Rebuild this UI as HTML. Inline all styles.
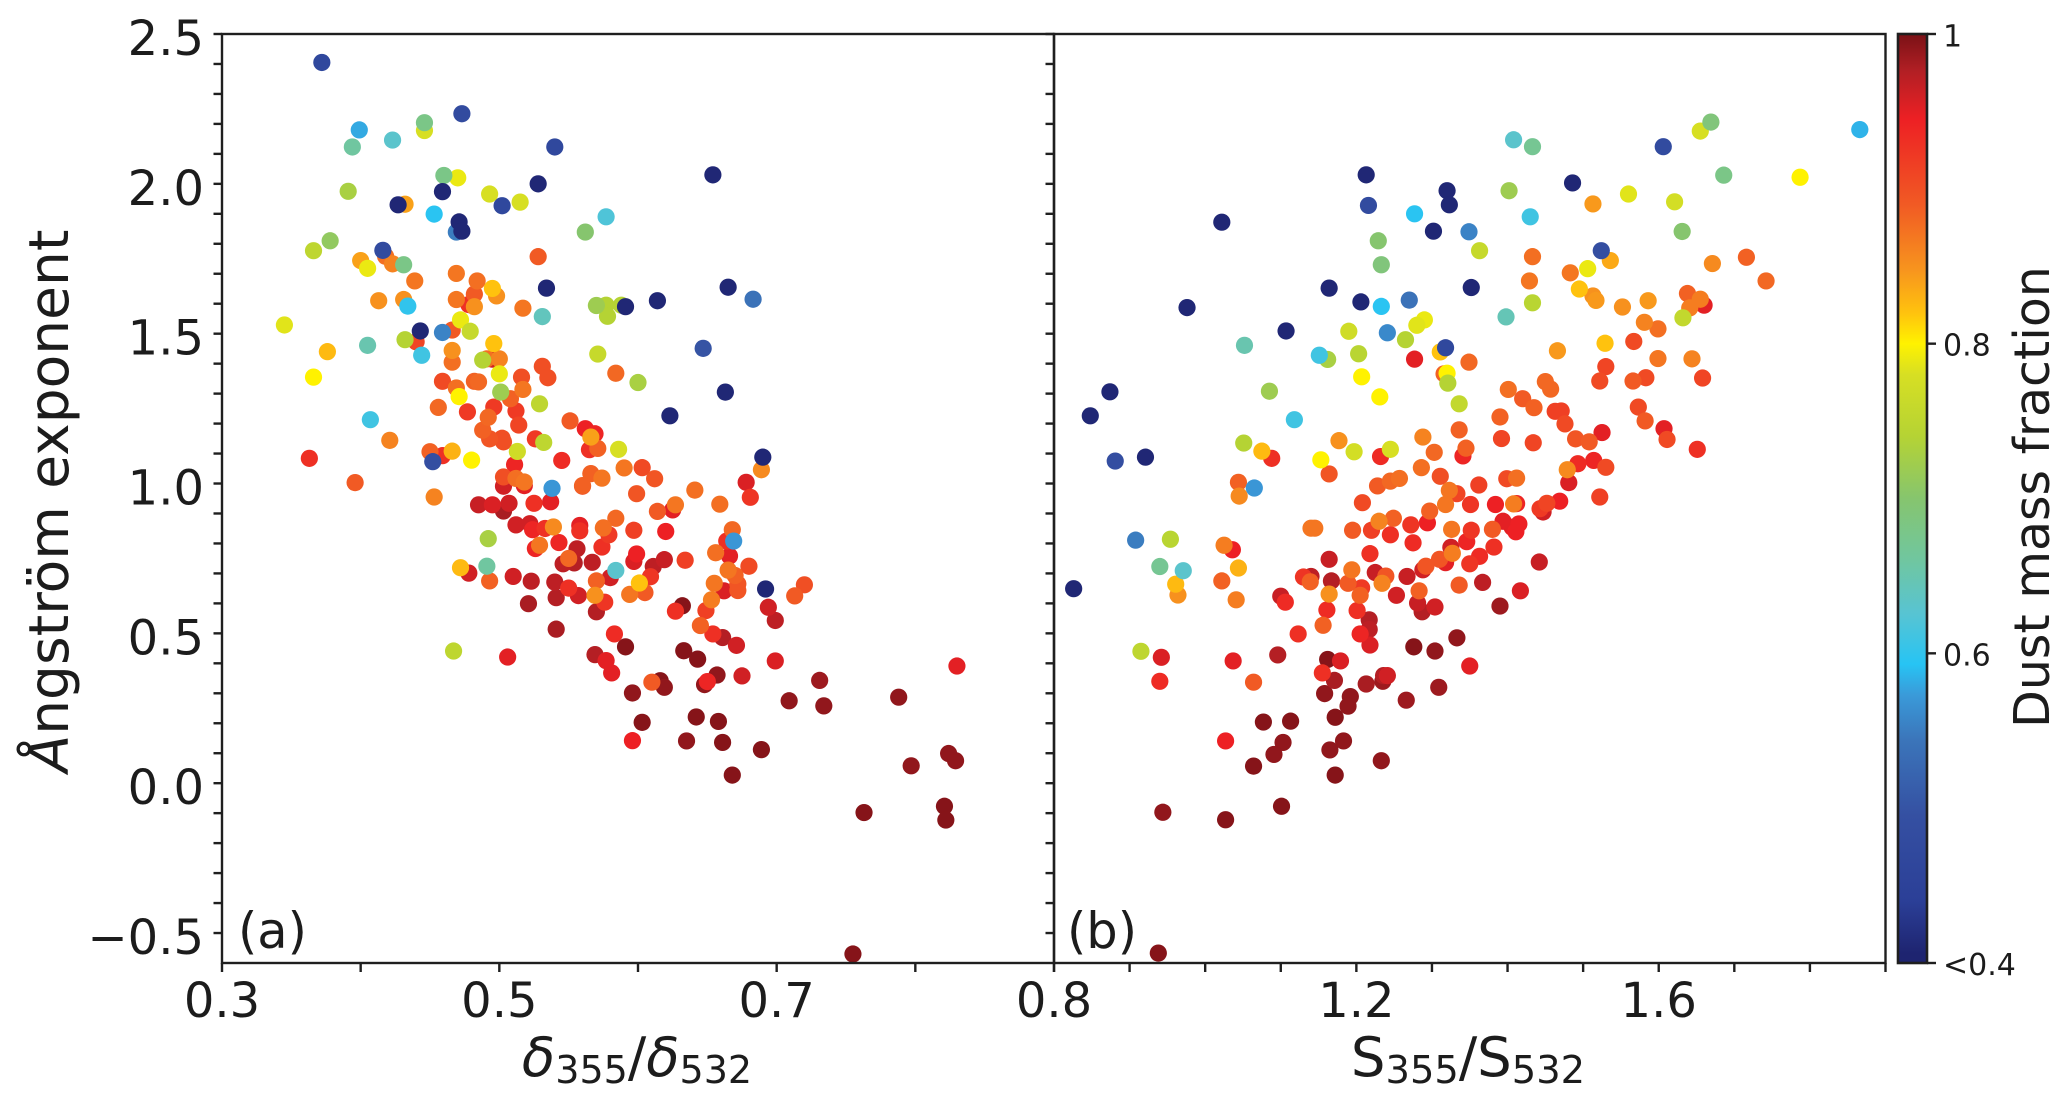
<!DOCTYPE html>
<html lang="en">
<head>
<meta charset="utf-8">
<title>Ångström exponent vs depolarization and lidar ratios</title>
<style>
html,body{margin:0;padding:0;background:#fff;}
svg{display:block;}
text{font-family:"DejaVu Sans","Liberation Sans",sans-serif;fill:#1c1c1c;}
</style>
</head>
<body>
<svg id="chart" xmlns="http://www.w3.org/2000/svg" width="2067" height="1102" viewBox="0 0 2067 1102">
  <defs>
    <linearGradient id="cbGrad" x1="0" y1="1" x2="0" y2="0"></linearGradient>
  </defs>
  <rect x="0" y="0" width="2067" height="1102" fill="#fff"/>
  <g id="marksA"></g>
  <g id="marksB"></g>
  <g id="axes"></g>
  <text x="238" y="948" font-size="49.5">(a)</text>
  <text x="1067" y="948" font-size="49.5">(b)</text>
  <text transform="translate(68,501) rotate(-90)" text-anchor="middle" font-size="55"><tspan font-style="italic">Å</tspan>ngström exponent</text>
  <text x="637" y="1076" text-anchor="middle" font-size="54.5"><tspan font-style="italic">δ</tspan><tspan font-size="38" dy="7">355</tspan><tspan dy="-7">/</tspan><tspan font-style="italic">δ</tspan><tspan font-size="38" dy="7">532</tspan></text>
  <text x="1468" y="1076" text-anchor="middle" font-size="54.5">S<tspan font-size="38.4" dy="7">355</tspan><tspan dy="-7">/S</tspan><tspan font-size="38.4" dy="7">532</tspan></text>
  <text transform="translate(2049,497) rotate(-90)" text-anchor="middle" font-size="49">Dust mass fraction</text>
</svg>
<script>
// Panel (a): depolarization ratio, Angstrom exponent, dust mass fraction
const deltaRatio = [
.372,.473,.446,.446,.399,.423,.394,.540,.460,.470,.391,.459,.528,.493,.515,.502,.432,.427,.453,.471,
.473,.469,.562,.577,.378,.366,.416,.418,.400,.423,.431,.405,.439,.469,.484,.528,.534,.482,.498,.495,
.413,.434,.431,.469,.478,.482,.517,.531,.570,.345,.466,.472,.479,.443,.459,.405,.440,.432,.496,.376,
.444,.466,.466,.488,.495,.491,.500,.571,.531,.366,.535,.500,.516,.459,.482,.485,.469,.517,.501,.471,
.508,.529,.456,.496,.512,.477,.492,.407,.514,.551,.488,.562,.421,.493,.526,.502,.503,.532,.450,.459,
.466,.513,.363,.452,.480,.511,.545,.396,.503,.503,.512,.518,.518,.538,.560,.453,.485,.495,.507,.503,
.525,.537,.512,.522,.524,.533,.539,.558,.558,.492,.543,.526,.529,.556,
.654,.577,.665,.683,.614,.588,.591,.578,.584,.600,.647,
.663,.623,.569,.566,.565,.571,.586,.690,.689,.590,.603,.612,.566,.574,.560,.599,.678,.681,.641,.659,
.625,.627,.614,.584,.575,.579,.597,.620,.574,.668,.664,.669,.656,.666,.634,.599,.597,.619,.611,.680,
.665,.670,.609,.546,.554,.550,.567,.584,.580,.570,.510,.523,.540,.550,.557,.541,.569,.601,.605,.594,
.576,.521,.570,.541,.655,.662,.672,.672,.720,.713,.692,.653,.649,.632,.627,.694,.699,.645,.654,.661,
.671,.583,.591,.569,.577,.581,.506,.633,.643,.699,.830,.657,.648,.650,.675,.731,.734,.709,.616,.619,
.610,.596,.788,.603,.642,.658,.596,.635,.661,.689,.824,.829,.797,.668,.763,.821,.822,.755,
.478,.472,.491,.493,.467];
const deltaAngstrom = [
2.405,2.234,2.204,2.178,2.180,2.146,2.123,2.123,2.028,2.020,1.975,1.974,2.000,1.966,1.939,1.927,1.932,1.930,1.899,1.873,
1.842,1.839,1.839,1.890,1.810,1.777,1.778,1.758,1.744,1.733,1.730,1.718,1.676,1.701,1.676,1.757,1.652,1.632,1.626,1.651,
1.610,1.592,1.614,1.614,1.597,1.590,1.585,1.557,1.594,1.529,1.512,1.546,1.508,1.509,1.504,1.461,1.473,1.480,1.467,1.440,
1.428,1.444,1.405,1.412,1.415,1.416,1.416,1.432,1.391,1.355,1.353,1.366,1.355,1.341,1.341,1.339,1.319,1.314,1.305,1.290,
1.283,1.266,1.254,1.255,1.242,1.239,1.221,1.213,1.195,1.209,1.178,1.183,1.144,1.149,1.149,1.151,1.139,1.137,1.106,1.093,
1.108,1.107,1.084,1.073,1.078,1.063,1.077,1.003,.991,1.022,1.017,.993,1.005,.984,.991,.955,.929,.929,.934,.908,
.934,.939,.862,.866,.846,.850,.855,.842,.860,.816,.803,.783,.794,.782,
2.030,1.595,1.655,1.615,1.610,1.595,1.590,1.558,1.368,1.337,1.451,
1.305,1.226,1.166,1.155,1.113,1.117,1.114,1.088,1.046,1.052,1.053,1.016,1.033,1.018,.993,.966,1.004,.954,.978,.931,
.912,.929,.907,.884,.852,.829,.844,.840,.788,.846,.808,.808,.769,.758,.744,.765,.740,.746,.723,.724,
.711,.693,.689,.732,.735,.750,.737,.710,.686,.675,.690,.674,.671,.651,.626,.619,.627,.668,.636,.630,
.604,.599,.572,.514,.667,.642,.643,.665,.662,.625,.648,.612,.576,.592,.574,.587,.543,.526,.498,.486,
.460,.498,.455,.429,.409,.368,.421,.442,.414,.408,.391,.361,.329,.339,.358,.343,.258,.275,.342,.320,
.337,.301,.287,.203,.221,.206,.142,.141,.136,.112,.099,.075,.058,.027,-.098,-.077,-.123,-.570,
.701,.719,.724,.675,.441];
const deltaDust = [
.47,.48,.68,.78,.58,.63,.66,.47,.68,.79,.73,.41,.41,.78,.78,.47,.84,.41,.595,.41,
.41,.55,.70,.62,.71,.75,.48,.875,.84,.86,.68,.79,.87,.87,.875,.89,.41,.89,.85,.82,
.85,.60,.85,.87,.93,.85,.87,.64,.72,.785,.89,.79,.76,.41,.555,.65,.91,.74,.82,.825,
.61,.85,.875,.74,.96,.875,.86,.76,.90,.80,.90,.79,.90,.905,.885,.88,.875,.87,.72,.80,
.885,.75,.88,.92,.92,.92,.88,.61,.91,.89,.885,.945,.86,.895,.92,.90,.90,.75,.885,.93,
.83,.77,.93,.49,.80,.94,.935,.89,.96,.90,.875,.95,.87,.57,.90,.86,.965,.955,.96,.98,
.93,.95,.96,.96,.94,.93,.855,.93,.95,.73,.94,.94,.87,.97,
.41,.74,.41,.54,.41,.74,.41,.74,.88,.73,.50,
.41,.41,.94,.84,.93,.885,.78,.41,.855,.87,.905,.895,.885,.87,.885,.895,.955,.925,.875,.875,
.95,.87,.89,.88,.875,.92,.915,.945,.93,.88,.93,.57,.875,.95,.915,.945,.955,.965,.97,.905,
.87,.885,.925,.97,.975,.88,.97,.63,.96,.885,.96,.97,.97,.93,.96,.975,.85,.82,.89,.87,
.925,.98,.975,.98,.87,.955,.895,.895,.90,.89,.41,.865,.915,.995,.93,.96,.97,.885,.93,.975,
.96,.935,.995,.975,.95,.95,.95,.995,.995,.955,.95,.99,.99,.94,.96,.985,.99,.99,.995,.99,
.89,.99,.99,.995,.995,.995,.945,.99,.995,.995,.99,.99,.99,.995,.995,.995,.995,.995,
.96,.825,.66,.885,.75];

// Panel (b): lidar ratio, Angstrom exponent, dust mass fraction
const lidarRatio = [
1.408,1.433,1.606,1.669,1.686,1.486,1.402,1.320,1.323,1.560,1.621,1.513,1.631,1.430,1.349,1.363,1.433,1.524,1.536,1.506,
1.483,1.671,1.429,1.495,1.352,1.513,1.517,1.433,1.552,1.586,1.660,1.638,1.655,1.641,1.632,1.398,1.581,1.599,1.567,1.529,
1.466,1.311,1.318,1.599,1.644,1.349,1.530,1.321,1.320,1.316,1.658,1.583,1.566,1.522,1.450,1.457,1.401,1.420,1.435,1.336,
1.463,1.471,1.390,1.476,1.573,1.582,1.336,1.525,1.607,1.866,1.787,1.716,1.742,1.611,1.651,1.530,1.522,
1.655,1.213,1.216,1.277,1.302,1.229,1.233,1.022,1.164,1.206,1.233,1.270,1.280,1.290,.976,1.107,1.190,1.241,1.265,1.052,
1.151,1.162,1.203,1.277,1.085,1.207,1.231,.874,.848,1.118,.881,.921,1.051,1.075,1.088,1.177,1.197,1.153,1.232,1.245,
1.164,1.288,1.303,1.345,1.341,1.392,1.434,1.286,1.311,1.257,1.245,1.228,1.362,1.399,1.412,1.044,1.065,1.045,1.481,1.479,
1.493,1.514,1.490,1.508,1.323,1.333,
1.208,1.318,1.351,1.384,1.412,1.408,1.452,1.443,1.447,1.469,1.297,1.294,1.272,1.249,1.230,1.220,1.195,1.140,1.145,1.245,
1.275,1.326,1.352,1.380,1.394,1.406,1.415,1.411,1.346,1.325,1.327,1.382,1.363,1.350,1.310,1.318,1.292,1.288,1.218,1.164,
1.194,1.225,1.239,1.267,1.234,1.140,1.130,1.139,1.167,1.189,1.207,1.164,1.205,1.253,1.283,1.336,1.367,1.417,1.442,1.390,
1.304,1.281,1.287,1.100,1.106,1.022,1.025,1.036,1.044,1.041,.908,.954,.940,.971,.961,.964,.826,.915,.942,.940,
1.037,1.064,1.096,1.123,1.161,1.201,1.156,1.217,1.217,1.205,1.218,1.162,1.179,1.155,1.171,1.158,1.192,1.189,1.172,1.213,
1.235,1.236,1.241,1.266,1.309,1.276,1.304,1.333,1.350,1.077,1.113,1.103,1.091,1.064,1.027,1.165,1.183,1.233,1.172,.944,
1.027,1.101,.938];
const lidarAngstrom = [
2.147,2.124,2.124,2.206,2.029,2.003,1.977,1.977,1.930,1.966,1.940,1.933,1.841,1.890,1.840,1.777,1.757,1.777,1.744,1.717,
1.703,1.734,1.676,1.649,1.654,1.626,1.611,1.603,1.589,1.610,1.595,1.634,1.615,1.586,1.553,1.556,1.538,1.516,1.474,1.468,
1.443,1.439,1.453,1.417,1.416,1.405,1.390,1.335,1.368,1.366,1.352,1.353,1.342,1.342,1.340,1.315,1.314,1.283,1.253,1.266,
1.241,1.242,1.222,1.199,1.255,1.209,1.179,1.170,1.183,2.181,2.022,1.755,1.676,1.147,1.114,1.054,.955,
2.176,2.030,1.928,1.900,1.842,1.810,1.730,1.872,1.652,1.606,1.591,1.612,1.528,1.546,1.587,1.509,1.508,1.503,1.480,1.461,
1.428,1.414,1.433,1.415,1.308,1.356,1.289,1.306,1.226,1.213,1.075,1.088,1.135,1.108,1.084,1.143,1.106,1.079,1.090,1.114,
1.032,1.155,1.104,1.118,1.092,1.150,1.136,1.053,1.024,1.017,1.008,.992,.995,1.016,1.018,1.004,.985,.958,1.003,1.046,
1.066,1.077,1.149,1.139,.977,.966,
.936,.930,.930,.930,.933,.932,.934,.916,.905,.941,.908,.869,.862,.884,.874,.844,.844,.851,.851,.829,
.802,.847,.844,.847,.874,.854,.865,.839,.806,.787,.767,.788,.757,.732,.747,.736,.724,.712,.766,.747,
.712,.703,.691,.690,.667,.690,.688,.672,.675,.667,.652,.631,.627,.627,.642,.661,.670,.642,.738,.591,
.588,.601,.572,.624,.604,.675,.794,.779,.718,.612,.811,.814,.723,.709,.664,.628,.649,.440,.420,.340,
.408,.337,.428,.498,.578,.576,.527,.545,.513,.498,.461,.413,.408,.368,.343,.299,.289,.257,.220,.331,
.340,.359,.359,.277,.320,.455,.441,.485,.391,.204,.207,.136,.096,.057,.141,.111,.141,.075,.027,-.097,
-.122,-.077,-.567];
const lidarDust = [
.63,.67,.48,.69,.68,.41,.72,.41,.41,.785,.775,.845,.70,.61,.555,.76,.875,.49,.835,.79,
.87,.855,.87,.82,.41,.85,.845,.745,.85,.845,.95,.885,.865,.865,.755,.645,.86,.875,.905,.82,
.845,.82,.47,.87,.86,.88,.91,.74,.80,.885,.91,.905,.89,.905,.88,.88,.875,.89,.885,.755,
.915,.915,.885,.905,.905,.89,.885,.95,.95,.585,.80,.885,.88,.905,.93,.905,.915,
.78,.41,.48,.595,.41,.70,.69,.41,.41,.41,.595,.54,.785,.79,.41,.41,.77,.56,.74,.65,
.61,.73,.745,.95,.72,.80,.80,.41,.41,.61,.49,.41,.74,.825,.93,.85,.775,.80,.935,.78,
.895,.86,.88,.885,.94,.91,.91,.875,.90,.875,.88,.89,.915,.905,.875,.885,.57,.855,.955,.855,
.935,.94,.895,.89,.87,.91,
.905,.87,.925,.945,.94,.865,.91,.92,.96,.945,.885,.945,.925,.885,.86,.915,.89,.87,.87,.93,
.935,.87,.925,.89,.95,.95,.945,.945,.94,.96,.865,.93,.935,.925,.895,.95,.895,.96,.93,.965,
.87,.965,.895,.965,.86,.97,.925,.885,.975,.89,.92,.85,.885,.96,.885,.89,.97,.955,.965,.985,
.96,.965,.975,.965,.935,.885,.865,.945,.83,.865,.55,.745,.67,.63,.825,.85,.41,.75,.955,.935,
.95,.89,.975,.93,.935,.93,.885,.975,.97,.94,.955,.995,.955,.93,.98,.99,.99,.99,.995,.98,
.985,.975,.96,.985,.985,.995,.99,.99,.95,.995,.995,.99,.99,.995,.945,.99,.99,.99,.995,.99,
.995,.995,.995];

// Axis tick data
const yTicks = [-0.5,-0.4,-0.3,-0.2,-0.1,0,0.1,0.2,0.3,0.4,0.5,0.6,0.7,0.8,0.9,1,1.1,1.2,1.3,1.4,1.5,1.6,1.7,1.8,1.9,2,2.1,2.2,2.3,2.4,2.5];
const yTickLabels = ["\u22120.5","0.0","0.5","1.0","1.5","2.0","2.5"];
const yTickLabelValues = [-0.5,0,0.5,1,1.5,2,2.5];
const xTicksA = [0.3,0.4,0.5,0.6,0.7,0.8,0.9];
const xLabelsA = ["0.3","0.5","0.7"];
const xLabelValuesA = [0.3,0.5,0.7];
const xTicksB = [0.8,0.9,1.0,1.1,1.2,1.3,1.4,1.5,1.6,1.7,1.8,1.9];
const xLabelsB = ["0.8","1.2","1.6"];
const xLabelValuesB = [0.8,1.2,1.6];
const cbarTickValues = [1,0.8,0.6,0.4];
const cbarTickLabels = ["1","0.8","0.6","<0.4"];

// Colour scale: dust mass fraction stops and colours
const cmapValues = [0.40,0.406,0.44,0.495,0.544,0.573,0.593,0.626,0.66,0.70,0.74,0.78,0.80,0.82,0.848,0.89,0.945,0.976,1.0];
const cmapColors = ["#1e2470","#1e2470","#2b3f97","#3550a2","#3b75ba","#3a9ad9","#27c4f4","#58c4d2","#70c6a0","#86c56e","#b5d334","#d7df23","#fff200","#ffc20e","#f7941e","#f15a24","#ed2024","#b21f24","#7a1116"];

const plotTop = 34, plotBottom = 963;
const panelA = {left:222, right:1054, min:0.3, max:0.9};
const panelB = {left:1054, right:1885.5, min:0.8, max:1.9};
const cbar = {left:1898, right:1927};
const NS = "http://www.w3.org/2000/svg";

function yScale(v){ return plotBottom - (v + 0.6) / 3.1 * (plotBottom - plotTop); }
function xScale(p, v){ return p.left + (v - p.min) / (p.max - p.min) * (p.right - p.left); }
function cbarY(v){ return plotBottom - (v - 0.4) / 0.6 * (plotBottom - plotTop); }
function hex(c){ return [1,3,5].map(function(i){ return parseInt(c.substr(i,2),16); }); }
function colorFor(v){
  if (v <= cmapValues[0]) return cmapColors[0];
  for (let i = 1; i < cmapValues.length; i++) {
    if (v <= cmapValues[i]) {
      const t = (v - cmapValues[i-1]) / (cmapValues[i] - cmapValues[i-1]);
      const a = hex(cmapColors[i-1]), b = hex(cmapColors[i]);
      return "rgb(" + a.map(function(x,k){ return Math.round(x + (b[k]-x)*t); }).join(",") + ")";
    }
  }
  return cmapColors[cmapColors.length-1];
}
function make(tag, attrs, parent){
  const el = document.createElementNS(NS, tag);
  for (const k in attrs) el.setAttribute(k, attrs[k]);
  parent.appendChild(el);
  return el;
}

function drawPoints(groupId, panel, xs, ys, cs, name){
  const g = document.getElementById(groupId);
  const n = Math.min(xs.length, ys.length, cs.length);
  // Lower dust fractions sit on top of the darker reds, as in the figure
  const order = [];
  for (let i = 0; i < n; i++) order.push(i);
  order.sort(function(a,b){ return cs[b] - cs[a]; });
  order.forEach(function(i){
    const c = make("circle", {cx:xScale(panel, xs[i]), cy:yScale(ys[i]), r:8.6, fill:colorFor(cs[i])}, g);
    
    
  });
}
drawPoints("marksA", panelA, deltaRatio, deltaAngstrom, deltaDust, "panel-a-point");
drawPoints("marksB", panelB, lidarRatio, lidarAngstrom, lidarDust, "panel-b-point");

const axes = document.getElementById("axes");
const inkColor = "#1f1f1f";

function line(x1,y1,x2,y2,w,name){
  const l = make("line", {x1:x1,y1:y1,x2:x2,y2:y2,stroke:inkColor,"stroke-width":w}, axes);
  
  
  return l;
}
function label(x,y,str,size,anchor,name){
  const t = make("text", {x:x,y:y,"font-size":size,"text-anchor":anchor}, axes);
  t.textContent = str;
  
  
  return t;
}

// Frames
[panelA, panelB].forEach(function(p){
  const r = make("rect", {x:p.left,y:plotTop,width:p.right-p.left,height:plotBottom-plotTop,fill:"none",stroke:inkColor,"stroke-width":2.4}, axes);
  
  
});

// Y ticks on both panels
[panelA, panelB].forEach(function(p){
  yTicks.forEach(function(v){
    line(p.left-8.5, yScale(v), p.left, yScale(v), 2.4, "y-tick");
  });
});
yTickLabelValues.forEach(function(v,i){
  label(204, yScale(v)+21, yTickLabels[i], 48, "end", "y-tick-label");
});

// X ticks
xTicksA.forEach(function(v){
  line(xScale(panelA,v), plotBottom, xScale(panelA,v), plotBottom+9, 2.4, "x-tick-a");
});
xTicksB.forEach(function(v){
  line(xScale(panelB,v), plotBottom, xScale(panelB,v), plotBottom+9, 2.4, "x-tick-b");
});
xLabelValuesA.forEach(function(v,i){
  label(xScale(panelA,v), 1017, xLabelsA[i], 48, "middle", "x-tick-label-a");
});
xLabelValuesB.forEach(function(v,i){
  label(xScale(panelB,v), 1017, xLabelsB[i], 48, "middle", "x-tick-label-b");
});

// Colorbar
const grad = document.getElementById("cbGrad");
cmapValues.forEach(function(v,i){
  make("stop", {offset:(v-0.4)/0.6, "stop-color":cmapColors[i]}, grad);
});
const cb = make("rect", {x:cbar.left,y:plotTop,width:cbar.right-cbar.left,height:plotBottom-plotTop,fill:"url(#cbGrad)",stroke:inkColor,"stroke-width":2.6}, axes);


cbarTickValues.forEach(function(v,i){
  line(cbar.right, cbarY(v), cbar.right+9, cbarY(v), 2.4, "colorbar-tick");
  const x = 1943;
  const y = cbarY(v) + (i === 0 ? 12.5 : 12);
  label(x, y, cbarTickLabels[i], 30, "start", "colorbar-tick-label");
});
</script>
</body>
</html>
